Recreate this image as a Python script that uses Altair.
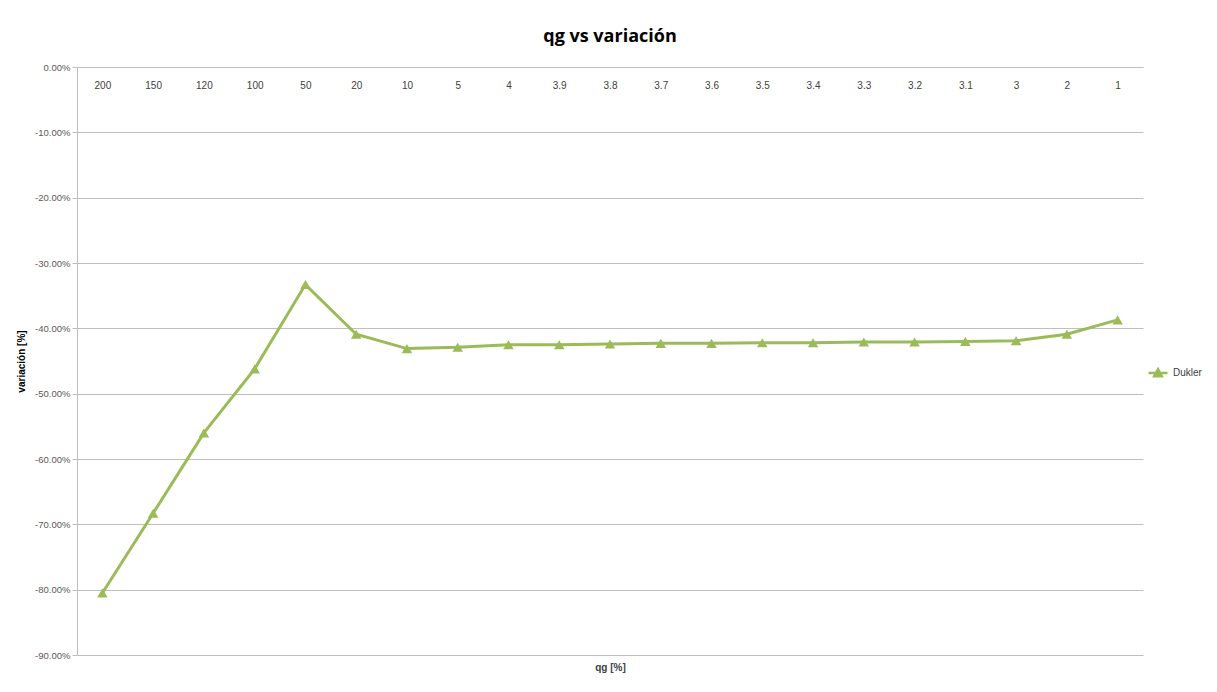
import altair as alt
import pandas as pd

categories = ["200", "150", "120", "100", "50", "20", "10", "5", "4", "3.9", "3.8",
              "3.7", "3.6", "3.5", "3.4", "3.3", "3.2", "3.1", "3", "2", "1"]
dukler = [-80.5, -68.3, -56.0, -46.2, -33.3, -40.9, -43.1, -42.9, -42.5, -42.5, -42.4,
          -42.3, -42.3, -42.2, -42.2, -42.1, -42.1, -42.0, -41.9, -40.9, -38.7]
series_name = "Dukler"

df = pd.DataFrame({"qg": categories, "variacion": dukler, "serie": series_name})

GREEN = "#9BBB59"
GRID = "#BFBFBF"
FONT = "Liberation Sans"

x = alt.X("qg:N", sort=categories,
          scale=alt.Scale(type="point", padding=0.5),
          axis=alt.Axis(orient="bottom", offset=-588, title="qg [%]", titleY=600,
                        titleBaseline="middle", titleFont=FONT, titleFontSize=10,
                        titleFontWeight="bold", titleColor="#404040",
                        labelAngle=0, labelFont=FONT, labelFontSize=10,
                        labelColor="#404040", labelPadding=13, ticks=False,
                        domainColor=GRID, grid=False))
y = alt.Y("variacion:Q",
          scale=alt.Scale(domain=[-90, 0], nice=False, zero=False),
          axis=alt.Axis(values=[0, -10, -20, -30, -40, -50, -60, -70, -80, -90],
                        labelExpr="replace(format(datum.value, '.2f'), '\u2212', '-') + '%'",
                        title="variación [%]", titleFont=FONT, titleFontSize=10,
                        titleFontWeight="bold", titleColor="#000000", titlePadding=8,
                        labelFont=FONT, labelFontSize=9.5, labelColor="#595959",
                        tickColor=GRID, tickSize=5, domainColor=GRID,
                        gridColor=GRID, gridWidth=1))
color = alt.Color("serie:N", scale=alt.Scale(range=[GREEN]),
                  legend=alt.Legend(title=None, orient="none", legendX=1070, legendY=295,
                                    symbolType="M-1,0L1,0M-0.4,0.35L0,-0.4L0.4,0.35Z",
                                    symbolSize=360, symbolStrokeWidth=2.5,
                                    symbolFillColor=GREEN, symbolStrokeColor=GREEN,
                                    labelFont=FONT, labelFontSize=10, labelColor="#404040"))

base = alt.Chart(df)
line = base.mark_line(strokeWidth=3).encode(x=x, y=y, color=color)
pts = base.mark_point(shape="triangle-up", filled=True, size=110, opacity=1).encode(
    x=x, y=y, color=alt.Color("serie:N", scale=alt.Scale(range=[GREEN]), legend=None))

chart = alt.layer(line, pts).properties(
    width=1066, height=588,
    autosize=alt.AutoSizeParams(type="none"),
    padding={"left": 69, "top": 59, "right": 64, "bottom": 20},
    title=alt.TitleParams("qg vs variación", font="Open Sans", fontSize=18,
                          fontWeight="bold", color="#000000", offset=16, anchor="middle"),
).configure_view(stroke=None)

chart.save("out.html", embed_options={"renderer": "svg", "actions": False})
